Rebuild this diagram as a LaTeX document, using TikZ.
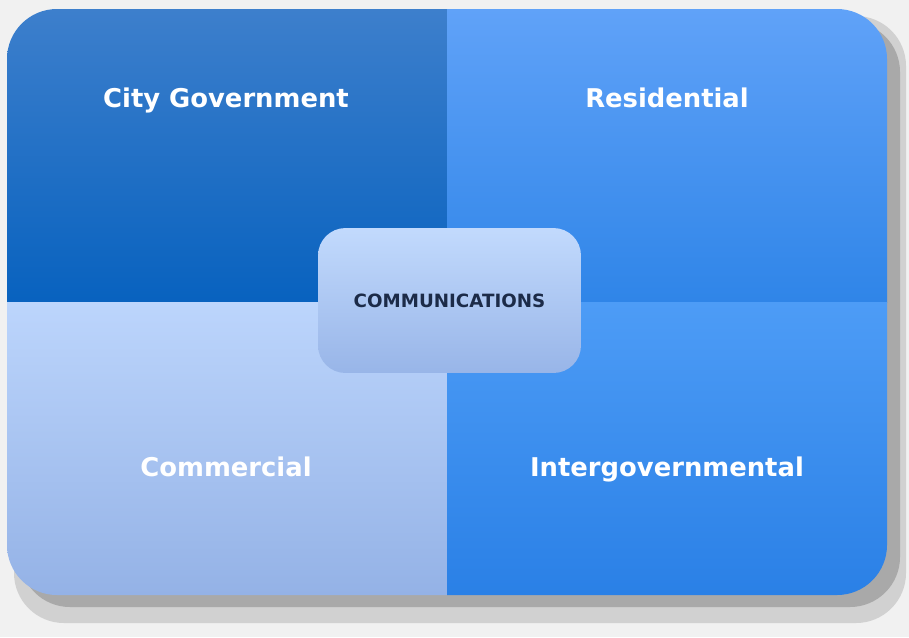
\documentclass[tikz,border=0pt]{standalone}
\usepackage{fontspec}
\setmainfont{DejaVu Sans}
\definecolor{pagegray}{HTML}{F1F1F1}
\definecolor{shadowdark}{HTML}{A9A9A9}
\definecolor{shadowlight}{HTML}{D1D1D1}
\definecolor{govtop}{HTML}{3D7FCC}
\definecolor{govbot}{HTML}{0862BF}
\definecolor{restop}{HTML}{60A2F8}
\definecolor{resbot}{HTML}{2F85E8}
\definecolor{comtop}{HTML}{BCD5FC}
\definecolor{combot}{HTML}{94B2E6}
\definecolor{inttop}{HTML}{4D9CF6}
\definecolor{intbot}{HTML}{2A80E6}
\definecolor{hubtop}{HTML}{C2DAFD}
\definecolor{hubbot}{HTML}{98B5E8}
\definecolor{hubtext}{HTML}{1C2B48}
\begin{document}
\begin{tikzpicture}[x=0.02cm, y=-0.02cm,
  quadlabel/.style={anchor=base, text=white,
    font=\bfseries\fontsize{14.7}{17}\selectfont},
  hubbox/.style={shape=rectangle, rounded corners=0.55cm,
    minimum width=5.26cm, minimum height=2.9cm,
    top color=hubtop, bottom color=hubbot, text=hubtext,
    font=\bfseries\fontsize{10.4}{12}\selectfont}]
\useasboundingbox (0,0) rectangle (909,637);
\fill[pagegray] (0,0) rectangle (909,637);
% shadow
\fill[shadowlight, rounded corners=1cm] (14,16) rectangle (906,623);
\fill[shadowdark, rounded corners=1cm] (20,22) rectangle (900,607);
% four quarters
\begin{scope}
\clip[rounded corners=1cm] (7,9) rectangle (887,595);
\shade[top color=govtop, bottom color=govbot] (7,9) rectangle (447,302);
\shade[top color=restop, bottom color=resbot] (447,9) rectangle (887,302);
\shade[top color=comtop, bottom color=combot] (7,302) rectangle (447,595);
\shade[top color=inttop, bottom color=intbot] (447,302) rectangle (887,595);
\end{scope}
\node (citygov) [quadlabel] at (226,107) {City Government};
\node (resident) [quadlabel] at (667,107) {Residential};
\node (commerce) [quadlabel] at (226,476) {Commercial};
\node (intergov) [quadlabel] at (667,476) {Intergovernmental};
\node (hub) [hubbox] at (449.5,300.5) {COMMUNICATIONS};
\end{tikzpicture}
\end{document}
